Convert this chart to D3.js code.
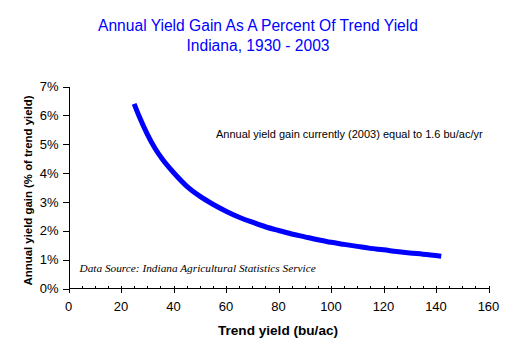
<!DOCTYPE html>
<html><head><meta charset="utf-8">
<script src="https://cdn.jsdelivr.net/npm/d3@7"></script>
<style>html,body{margin:0;padding:0;background:#fff;}svg{display:block;}</style>
</head><body>
<svg id="chart" width="516" height="357"></svg>
<script>
const trendYield = [25, 27, 30, 33, 36, 40, 45, 50, 55, 60, 65, 70, 75, 80, 85, 90, 95, 100, 105, 110, 115, 120, 125, 130, 135, 142];
const gainPct    = [6.4, 5.95, 5.35, 4.85, 4.45, 4.02, 3.55, 3.2, 2.92, 2.68, 2.47, 2.3, 2.14, 2.01, 1.89, 1.79, 1.69, 1.6, 1.53, 1.46, 1.39, 1.34, 1.28, 1.23, 1.19, 1.12];
const xTicks = [0, 20, 40, 60, 80, 100, 120, 140, 160];
const yTicks = [0, 1, 2, 3, 4, 5, 6, 7];
const titleLines = ["Annual Yield Gain As A Percent Of Trend Yield", "Indiana, 1930 - 2003"];
const noteText = "Annual yield gain currently (2003) equal to 1.6 bu/ac/yr";
const sourceText = "Data Source: Indiana Agricultural Statistics Service";

const svg = d3.select("#chart");
const x = d3.scaleLinear().domain([0, 160]).range([68.5, 488.5]);
const y = d3.scaleLinear().domain([0, 7]).range([288.5, 86.5]);

// title
svg.selectAll("text.title").data(titleLines).join("text")
  .attr("class", "title")
  .attr("x", 258).attr("y", (d, i) => 31 + i * 20)
  .attr("text-anchor", "middle")
  .attr("font-family", "Arial, 'Liberation Sans', sans-serif")
  .attr("font-size", 15.6).attr("fill", "#0000FF").text(d => d);

// y axis
const yAxis = svg.append("g").attr("transform", `translate(${x(0)},0)`)
  .call(d3.axisLeft(y).tickValues(yTicks).tickSize(6).tickSizeOuter(0).tickPadding(4).tickFormat(d => d + "%"));
yAxis.select(".domain").attr("stroke", "#000").attr("shape-rendering", "crispEdges");
yAxis.selectAll(".tick line").attr("stroke", "#000").attr("shape-rendering", "crispEdges");
yAxis.selectAll(".tick text").attr("font-family", "Arial, 'Liberation Sans', sans-serif").attr("font-size", 13).attr("fill", "#000");

// x axis
const xg = svg.append("g").attr("transform", `translate(0,${y(0)})`);
xg.append("line").attr("x1", x(0)).attr("x2", x(160)).attr("y1", 0).attr("y2", 0)
  .attr("stroke", "#000").attr("shape-rendering", "crispEdges");
const minorTicks = d3.range(0, 161, 5).filter(v => v % 20 !== 0);
xg.selectAll("line.minor").data(minorTicks).join("line").attr("class", "minor")
  .attr("x1", d => Math.round(x(d)) + 0.5).attr("x2", d => Math.round(x(d)) + 0.5)
  .attr("y1", -3).attr("y2", 0).attr("stroke", "#000").attr("shape-rendering", "crispEdges");
xg.selectAll("line.major").data(xTicks).join("line").attr("class", "major")
  .attr("x1", d => Math.round(x(d)) + 0.5).attr("x2", d => Math.round(x(d)) + 0.5)
  .attr("y1", -3).attr("y2", 4).attr("stroke", "#000").attr("shape-rendering", "crispEdges");
xg.selectAll("text").data(xTicks).join("text")
  .attr("x", d => x(d)).attr("y", 22.5).attr("text-anchor", "middle")
  .attr("font-family", "Arial, 'Liberation Sans', sans-serif").attr("font-size", 13).attr("fill", "#000")
  .text(d => d);

// axis titles
svg.append("text").attr("x", 278).attr("y", 335).attr("text-anchor", "middle")
  .attr("font-family", "Arial, 'Liberation Sans', sans-serif").attr("font-size", 13.6).attr("font-weight", "bold")
  .text("Trend yield (bu/ac)");
svg.append("text").attr("transform", "translate(32,190.5) rotate(-90)").attr("text-anchor", "middle")
  .attr("font-family", "Arial, 'Liberation Sans', sans-serif").attr("font-size", 11.4).attr("font-weight", "bold")
  .text("Annual yield gain (% of trend yield)");

// curve
const pts = trendYield.map((v, i) => [v, gainPct[i]]);
svg.append("path").datum(pts)
  .attr("d", d3.line().x(d => x(d[0])).y(d => y(d[1])).curve(d3.curveMonotoneX))
  .attr("fill", "none").attr("stroke", "#0000FF").attr("stroke-width", 5);

// annotations
svg.append("text").attr("x", 216).attr("y", 137.5)
  .attr("font-family", "Arial, 'Liberation Sans', sans-serif").attr("font-size", 11).text(noteText);
svg.append("text").attr("x", 79.5).attr("y", 272)
  .attr("font-family", "'Liberation Serif', 'Times New Roman', serif").attr("font-style", "italic").attr("font-size", 11.3).text(sourceText);
</script>
</body></html>
